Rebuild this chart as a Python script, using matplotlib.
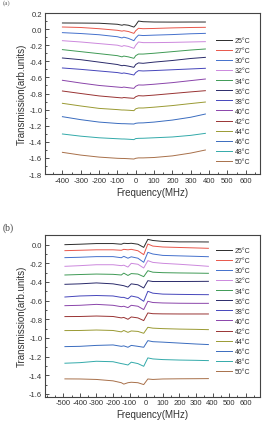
import numpy as np
import matplotlib
matplotlib.use("Agg")
from matplotlib import pyplot as plt
from matplotlib.ticker import MultipleLocator

plt.rcParams['font.family'] = ['Liberation Sans', 'DejaVu Sans']
plt.rcParams['axes.unicode_minus'] = False

### data ###
temps = ["25°C", "27°C", "30°C", "32°C", "34°C", "36°C", "38°C",
         "40°C", "42°C", "44°C", "46°C", "48°C", "50°C"]
colors = ["#2b2b2b", "#e8564a", "#4470cc", "#cc88dd", "#3f9a55", "#2a2a6a",
          "#4646bb", "#8a44aa", "#993333", "#9a9a33", "#3a6cbf", "#33aaaa",
          "#a8704a"]

# panel (a)
freq_a = [-400, -300, -200, -100, -75, -65, -40, -10, 0, 15, 40, 100, 200, 300, 380]
trans_a = [
    [0.076, 0.075, 0.073, 0.060, 0.048, 0.055, 0.048, 0.025, 0.050, 0.100, 0.092, 0.088, 0.087, 0.088, 0.088],
    [0.026, 0.020, 0.005, -0.015, -0.025, -0.020, -0.030, -0.053, -0.020, 0.010, 0.005, 0.008, 0.015, 0.020, 0.022],
    [-0.044, -0.055, -0.070, -0.095, -0.110, -0.100, -0.115, -0.144, -0.110, -0.075, -0.080, -0.075, -0.068, -0.058, -0.053],
    [-0.144, -0.160, -0.180, -0.200, -0.215, -0.205, -0.215, -0.239, -0.200, -0.160, -0.168, -0.168, -0.165, -0.160, -0.156],
    [-0.255, -0.280, -0.305, -0.330, -0.345, -0.335, -0.345, -0.363, -0.330, -0.310, -0.310, -0.300, -0.280, -0.260, -0.247],
    [-0.359, -0.380, -0.410, -0.440, -0.455, -0.450, -0.460, -0.475, -0.440, -0.420, -0.425, -0.410, -0.390, -0.365, -0.351],
    [-0.483, -0.500, -0.520, -0.540, -0.550, -0.545, -0.555, -0.570, -0.540, -0.516, -0.520, -0.515, -0.505, -0.495, -0.487],
    [-0.636, -0.670, -0.700, -0.720, -0.725, -0.720, -0.728, -0.736, -0.710, -0.694, -0.695, -0.685, -0.665, -0.640, -0.620],
    [-0.769, -0.800, -0.830, -0.850, -0.855, -0.850, -0.855, -0.860, -0.840, -0.827, -0.830, -0.820, -0.800, -0.780, -0.765],
    [-0.922, -0.955, -0.985, -1.000, -1.005, -1.005, -1.008, -1.013, -0.990, -0.980, -0.980, -0.970, -0.950, -0.925, -0.906],
    [-1.088, -1.125, -1.155, -1.172, -1.175, -1.175, -1.177, -1.179, -1.170, -1.166, -1.165, -1.155, -1.130, -1.095, -1.055],
    [-1.303, -1.330, -1.350, -1.362, -1.365, -1.365, -1.368, -1.373, -1.360, -1.357, -1.356, -1.350, -1.340, -1.320, -1.295],
    [-1.531, -1.565, -1.590, -1.605, -1.607, -1.607, -1.610, -1.614, -1.605, -1.600, -1.600, -1.595, -1.575, -1.540, -1.502],
]

# panel (b)
freq_b = [-490, -400, -300, -200, -150, -135, -110, -90, -50, -15, 10, 40, 100, 200, 300, 375]
trans_b = [
    [0.000, 0.005, 0.012, 0.012, 0.005, 0.015, 0.012, 0.015, 0.005, -0.029, 0.057, 0.045, 0.035, 0.030, 0.030, 0.029],
    [-0.064, -0.060, -0.055, -0.055, -0.060, -0.050, -0.055, -0.050, -0.065, -0.107, 0.007, -0.015, -0.025, -0.030, -0.035, -0.039],
    [-0.139, -0.135, -0.128, -0.128, -0.140, -0.125, -0.145, -0.130, -0.145, -0.189, -0.082, -0.100, -0.115, -0.120, -0.125, -0.129],
    [-0.232, -0.225, -0.215, -0.215, -0.225, -0.220, -0.240, -0.200, -0.210, -0.250, -0.171, -0.190, -0.200, -0.210, -0.222, -0.232],
    [-0.325, -0.320, -0.315, -0.318, -0.325, -0.305, -0.330, -0.310, -0.315, -0.343, -0.279, -0.295, -0.300, -0.303, -0.305, -0.307],
    [-0.425, -0.420, -0.410, -0.420, -0.435, -0.440, -0.455, -0.420, -0.430, -0.464, -0.386, -0.395, -0.395, -0.395, -0.394, -0.393],
    [-0.561, -0.550, -0.545, -0.550, -0.565, -0.565, -0.580, -0.550, -0.565, -0.607, -0.500, -0.520, -0.530, -0.533, -0.535, -0.536],
    [-0.654, -0.650, -0.640, -0.650, -0.665, -0.660, -0.675, -0.650, -0.660, -0.696, -0.607, -0.620, -0.625, -0.628, -0.629, -0.629],
    [-0.771, -0.770, -0.765, -0.770, -0.785, -0.780, -0.800, -0.775, -0.785, -0.814, -0.732, -0.740, -0.742, -0.743, -0.743, -0.743],
    [-0.921, -0.920, -0.915, -0.920, -0.935, -0.920, -0.940, -0.925, -0.930, -0.950, -0.886, -0.895, -0.900, -0.905, -0.908, -0.911],
    [-1.093, -1.090, -1.080, -1.075, -1.090, -1.085, -1.100, -1.080, -1.090, -1.100, -1.029, -1.040, -1.045, -1.055, -1.065, -1.071],
    [-1.271, -1.265, -1.250, -1.255, -1.275, -1.280, -1.290, -1.260, -1.275, -1.304, -1.214, -1.225, -1.232, -1.237, -1.240, -1.243],
    [-1.439, -1.440, -1.445, -1.460, -1.480, -1.495, -1.480, -1.475, -1.480, -1.500, -1.440, -1.445, -1.440, -1.438, -1.437, -1.436],
]

yticks_a = [-1.8, -1.6, -1.4, -1.2, -1.0, -0.8, -0.6, -0.4, -0.2, 0.0, 0.2]
yticks_b = [-1.6, -1.4, -1.2, -1.0, -0.8, -0.6, -0.4, -0.2, 0.0]
xticks_a = [-400, -300, -200, -100, 0, 100, 200, 300, 400, 500, 600]
xticks_b = [-500, -400, -300, -200, -100, 0, 100, 200, 300, 400, 500, 600]


def draw_panel(ax, freq, curves, xlim, ylim, yticks, xticks, leg_top):
    for vals, lab, c in zip(curves, temps, colors):
        ax.plot(freq, vals, color=c, lw=0.7, label=lab)
    ax.set_xlim(*xlim)
    ax.set_ylim(*ylim)
    ax.set_xticks(xticks)
    ax.set_xticklabels([str(v) for v in xticks])
    ax.set_yticks(yticks)
    ax.set_yticklabels(["%.1f" % v for v in yticks])
    ax.xaxis.set_minor_locator(MultipleLocator(50))
    ax.yaxis.set_minor_locator(MultipleLocator(0.1))
    ax.tick_params(which="both", direction="in", labelsize=5.5, pad=2,
                   colors="#333333", width=0.6)
    ax.tick_params(which="major", length=3)
    ax.tick_params(which="minor", length=1.6)
    for s in ax.spines.values():
        s.set_linewidth(0.8)
        s.set_color("#444444")
    ax.set_xlabel("Frequency(MHz)", fontsize=7, labelpad=2, color="#333333")
    ax.set_ylabel("Transmission(arb.units)", fontsize=7, labelpad=2, color="#333333")
    ax.legend(loc="upper left", bbox_to_anchor=(216 / 262, leg_top),
              bbox_transform=ax.figure.transFigure, frameon=False,
              fontsize=5, handlelength=2.3, handletextpad=0.4,
              labelspacing=0.45, borderpad=0, borderaxespad=0,
              labelcolor="#333333")


fig = plt.figure(figsize=(2.62, 4.35), dpi=100)
ax1 = fig.add_axes([45 / 262, 1 - 175 / 435, 215 / 262, 161 / 435])
ax2 = fig.add_axes([45 / 262, 1 - 397.7 / 435, 215 / 262, 162 / 435])

draw_panel(ax1, freq_a, trans_a, (-495, 678), (-1.8, 0.2),
           yticks_a, xticks_a, 1 - 38 / 435)
draw_panel(ax2, freq_b, trans_b, (-610, 686), (-1.63, 0.107),
           yticks_b, xticks_b, 1 - 248 / 435)

fig.text(3 / 262, 1.0, "(a)", fontsize=5, family="Liberation Serif",
         va="top", color="#666666")
fig.text(3 / 262, 1 - 228 / 435, "(b)", fontsize=7, family="Liberation Serif",
         va="center", color="#444444")

fig.savefig("out.png", dpi=100)
